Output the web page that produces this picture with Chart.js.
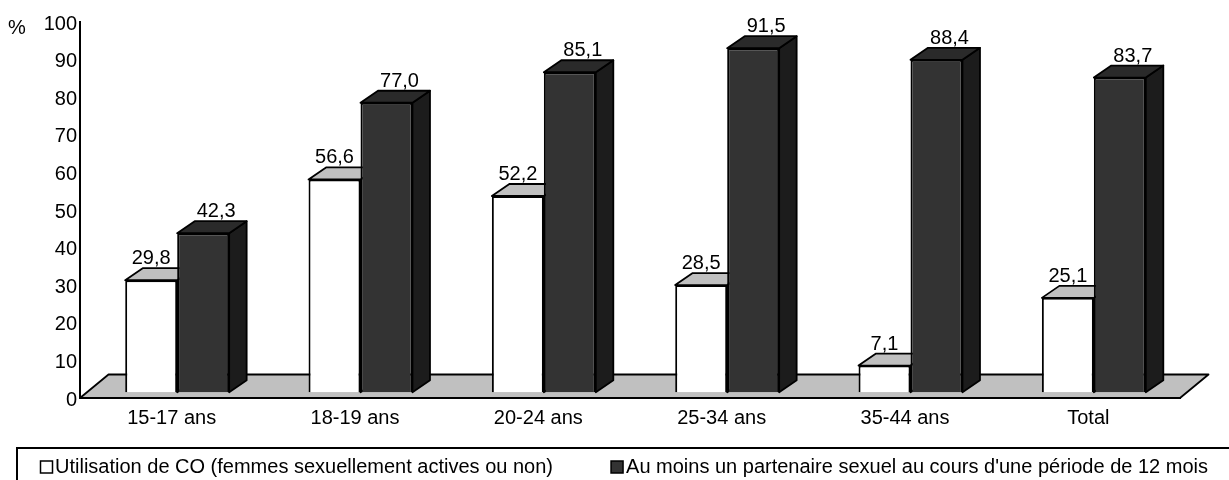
<!DOCTYPE html>
<html lang="fr">
<head>
<meta charset="utf-8">
<title>Utilisation de CO et partenaire sexuel selon l'âge</title>
<script src="https://cdn.jsdelivr.net/npm/chart.js@4.4.1/dist/chart.umd.min.js"></script>
<style>
  html, body { margin: 0; padding: 0; background: #ffffff; }
  #wrap { width: 1229px; height: 480px; position: relative; }
</style>
</head>
<body>
<div id="wrap"><canvas id="chart" width="1229" height="480"></canvas></div>
<script>
// Age groups and percentages
const categories = ['15-17 ans', '18-19 ans', '20-24 ans', '25-34 ans', '35-44 ans', 'Total'];
const coUse = [29.8, 56.6, 52.2, 28.5, 7.1, 25.1];
const partner12m = [42.3, 77.0, 85.1, 91.5, 88.4, 83.7];
const seriesNames = [
  'Utilisation de CO (femmes sexuellement actives ou non)',
  "Au moins un partenaire sexuel au cours d'une période de 12 mois"
];
const yAxisUnit = '%';

const FONT = '"Liberation Sans", Arial, Helvetica, sans-serif';
const FLOOR_DEPTH = { dx: 28.5, dy: -23.5 };
const BAR_DEPTH = { dx: 17.5, dy: -12 };
const BAR_SHIFT = {
  dx: (FLOOR_DEPTH.dx - BAR_DEPTH.dx) / 2,
  dy: (FLOOR_DEPTH.dy - BAR_DEPTH.dy) / 2
};
const EDGE = 1.8;

const faceStyles = [
  { front: '#ffffff', top: '#c0c0c0', side: '#c0c0c0', labelDx: 0 },
  { front: '#333333', top: '#2a2a2a', side: '#1c1c1c', labelDx: 13 }
];

const fmt = v => v.toFixed(1).replace('.', ',');

function poly(ctx, pts, fill) {
  ctx.beginPath();
  ctx.moveTo(pts[0][0], pts[0][1]);
  for (let i = 1; i < pts.length; i++) ctx.lineTo(pts[i][0], pts[i][1]);
  ctx.closePath();
  ctx.fillStyle = fill;
  ctx.fill();
  ctx.stroke();
}

// Grey floor under the bars, drawn before the axes
const floorPlugin = {
  id: 'floor',
  beforeDraw(chart) {
    const { ctx, chartArea: a } = chart;
    const y0 = chart.scales.y.getPixelForValue(0);
    ctx.save();
    ctx.strokeStyle = '#000';
    ctx.lineWidth = EDGE;
    ctx.lineJoin = 'round';
    poly(ctx, [
      [a.left, y0],
      [a.left + FLOOR_DEPTH.dx, y0 + FLOOR_DEPTH.dy],
      [a.right + FLOOR_DEPTH.dx, y0 + FLOOR_DEPTH.dy],
      [a.right, y0]
    ], '#c0c0c0');
    ctx.restore();
  }
};

// Bars sit in the middle of the floor's depth; each box is drawn
// front face (the library's bar element) then top and side faces,
// series by series from left to right so the boxes overlap correctly.
const boxPlugin = {
  id: 'boxes',
  beforeDatasetDraw() {
    return false;
  },
  afterDatasetsDraw(chart) {
    const ctx = chart.ctx;
    ctx.save();
    ctx.translate(BAR_SHIFT.dx, BAR_SHIFT.dy);
    chart.data.datasets.forEach((ds, i) => {
      const meta = chart.getDatasetMeta(i);
      const st = faceStyles[i];
      meta.data.forEach(el => {
        el.draw(ctx);
        const p = el.getProps(['x', 'y', 'base', 'width'], true);
        const l = p.x - p.width / 2, r = p.x + p.width / 2;
        const { dx, dy } = BAR_DEPTH;
        ctx.save();
        ctx.strokeStyle = '#000';
        ctx.lineWidth = EDGE;
        ctx.lineJoin = 'round';
        poly(ctx, [[r, p.y], [r + dx, p.y + dy], [r + dx, p.base + dy], [r, p.base]], st.side);
        poly(ctx, [[l, p.y], [l + dx, p.y + dy], [r + dx, p.y + dy], [r, p.y]], st.top);
        ctx.restore();
      });
    });
    ctx.restore();

    // value labels above each box
    ctx.save();
    ctx.font = '20px ' + FONT;
    ctx.fillStyle = '#000';
    ctx.textAlign = 'center';
    ctx.textBaseline = 'alphabetic';
    chart.data.datasets.forEach((ds, i) => {
      const meta = chart.getDatasetMeta(i);
      meta.data.forEach((el, j) => {
        const p = el.getProps(['x', 'y'], true);
        const x = p.x + BAR_SHIFT.dx + faceStyles[i].labelDx;
        const y = p.y + BAR_SHIFT.dy + BAR_DEPTH.dy - 4;
        ctx.fillText(fmt(ds.data[j]), x, y);
      });
    });
    ctx.restore();
  }
};

// Unit mark and boxed legend
const decorPlugin = {
  id: 'decor',
  afterDraw(chart) {
    const ctx = chart.ctx;
    ctx.save();
    ctx.font = '20px ' + FONT;
    ctx.fillStyle = '#000';
    ctx.textBaseline = 'alphabetic';
    ctx.textAlign = 'left';
    ctx.fillText(yAxisUnit, 8, 34);

    ctx.strokeStyle = '#000';
    ctx.lineWidth = 2;
    ctx.strokeRect(17, 448, 1400, 100);

    ctx.textBaseline = 'middle';
    ctx.lineWidth = 1.5;
    const yMid = 467;
    // first entry
    ctx.fillStyle = faceStyles[0].front;
    ctx.fillRect(40.5, 461, 12, 12);
    ctx.strokeRect(40.5, 461, 12, 12);
    ctx.fillStyle = '#000';
    ctx.fillText(seriesNames[0], 55, yMid);
    // second entry, ending near the right edge
    const w2 = ctx.measureText(seriesNames[1]).width;
    const x2 = 1208 - w2;
    ctx.fillStyle = faceStyles[1].front;
    ctx.fillRect(x2 - 15, 461, 12, 12);
    ctx.strokeRect(x2 - 15, 461, 12, 12);
    ctx.fillStyle = '#000';
    ctx.fillText(seriesNames[1], x2, yMid);
    ctx.restore();
  }
};

new Chart(document.getElementById('chart'), {
  type: 'bar',
  data: {
    labels: categories,
    datasets: [
      {
        label: seriesNames[0],
        data: coUse,
        backgroundColor: faceStyles[0].front,
        borderColor: '#000',
        borderWidth: 2
      },
      {
        label: seriesNames[1],
        data: partner12m,
        backgroundColor: faceStyles[1].front,
        borderColor: '#000',
        borderWidth: 2
      }
    ]
  },
  options: {
    responsive: false,
    animation: false,
    devicePixelRatio: 1,
    layout: { padding: { top: 22, right: 49, left: 0, bottom: 0 } },
    datasets: { bar: { barPercentage: 1, categoryPercentage: 0.567 } },
    plugins: { legend: { display: false }, tooltip: { enabled: false } },
    scales: {
      x: {
        grid: { display: false, drawTicks: false },
        border: { display: true, color: '#000', width: 2 },
        ticks: { color: '#000', font: { family: FONT, size: 20 }, padding: 8, maxRotation: 0 },
        afterFit(scale) { scale.height = 82; }
      },
      y: {
        min: 0,
        max: 100,
        grid: { display: false, drawTicks: false },
        border: { display: true, color: '#000', width: 2 },
        ticks: { stepSize: 10, color: '#000', font: { family: FONT, size: 20 }, padding: 3, labelOffset: 2 },
        afterFit(scale) { scale.width = 80; }
      }
    }
  },
  plugins: [floorPlugin, boxPlugin, decorPlugin]
});
</script>
</body>
</html>
